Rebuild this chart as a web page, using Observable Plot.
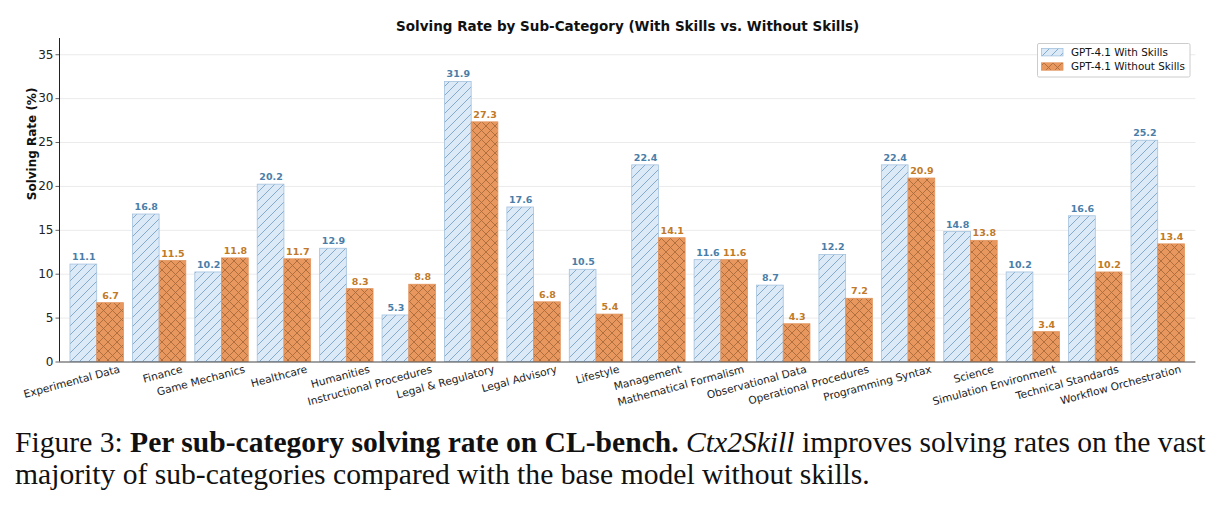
<!DOCTYPE html>
<html>
<head>
<meta charset="utf-8">
<script src="https://cdn.jsdelivr.net/npm/d3@7"></script>
<script src="https://cdn.jsdelivr.net/npm/@observablehq/plot@0.6"></script>
<style>
  html, body { margin: 0; padding: 0; background: #fff; width: 1219px; height: 508px; overflow: hidden; }
  #chart { position: absolute; left: 0; top: 0; }
  #caption { position: absolute; left: 15px; top: 426px; font-family: "Liberation Serif", "Times New Roman", serif; font-size: 29.6px; line-height: 32px; color: #111; white-space: nowrap; }
</style>
</head>
<body>
<div id="chart"></div>
<div id="caption">Figure 3: <b>Per sub-category solving rate on CL-bench.</b> <i>Ctx2Skill</i> improves solving rates on the vast<br>majority of sub-categories compared with the base model without skills.</div>
<script>
const categories = ["Experimental Data", "Finance", "Game Mechanics", "Healthcare", "Humanities",
  "Instructional Procedures", "Legal & Regulatory", "Legal Advisory", "Lifestyle", "Management",
  "Mathematical Formalism", "Observational Data", "Operational Procedures", "Programming Syntax",
  "Science", "Simulation Environment", "Technical Standards", "Workflow Orchestration"];
const withSkills = [11.1, 16.8, 10.2, 20.2, 12.9, 5.3, 31.9, 17.6, 10.5, 22.4, 11.6, 8.7, 12.2, 22.4, 14.8, 10.2, 16.6, 25.2];
const withoutSkills = [6.7, 11.5, 11.8, 11.7, 8.3, 8.8, 27.3, 6.8, 5.4, 14.1, 11.6, 4.3, 7.2, 20.9, 13.8, 3.4, 10.2, 13.4];
const seriesNames = ["GPT-4.1 With Skills", "GPT-4.1 Without Skills"];
const yTicks = [0, 5, 10, 15, 20, 25, 30, 35];

const W = 0.428; // bar width in category units
const rowsWith = categories.map((c, i) => ({i, cat: c, v: withSkills[i]}));
const rowsWithout = categories.map((c, i) => ({i, cat: c, v: withoutSkills[i]}));
const xDomain = [-0.604, categories.length - 1 + 0.604];

const blueLabel = "#4a7ea8", orangeLabel = "#c17a28";

const plot = Plot.plot({
  width: 1219,
  height: 420,
  marginLeft: 59,
  marginRight: 23.6,
  marginTop: 38,
  marginBottom: 58.5,
  style: {fontFamily: "DejaVu Sans", fontSize: "12px", color: "#222", background: "#fff"},
  x: {type: "linear", domain: xDomain, axis: null},
  y: {domain: [0, 36.85], axis: null},
  marks: [
    Plot.gridY(yTicks.filter(d => d > 0), {stroke: "#ebebeb", strokeOpacity: 1, strokeWidth: 1}),
    Plot.rectY(rowsWith, {x1: d => d.i - W, x2: d => d.i, y1: 0, y2: "v", fill: "url(#hatchBlue)", stroke: "#a3c2de", strokeWidth: 0.8}),
    Plot.rectY(rowsWithout, {x1: d => d.i, x2: d => d.i + W, y1: 0, y2: "v", fill: "url(#hatchOrange)", stroke: "#e3945c", strokeWidth: 0.8}),
    Plot.text(rowsWith, {x: d => d.i - W / 2, y: "v", text: d => d.v.toFixed(1), dy: -4.5, lineAnchor: "bottom", fill: blueLabel, fontWeight: "bold", fontSize: 9.5}),
    Plot.text(rowsWithout, {x: d => d.i + W / 2, y: "v", text: d => d.v.toFixed(1), dy: -4.5, lineAnchor: "bottom", fill: orangeLabel, fontWeight: "bold", fontSize: 9.5}),
    Plot.axisY({ticks: yTicks, tickSize: 3.5, tickPadding: 2.5, label: null, fontSize: 12, stroke: "#666", fill: "#222"}),
    Plot.ruleX([xDomain[0]], {stroke: "#222", strokeWidth: 1}),
    Plot.ruleY([0], {stroke: "#444", strokeWidth: 1.2}),
    Plot.axisX({ticks: d3.range(categories.length), tickFormat: i => categories[i], tickRotate: -15, textAnchor: "end", lineAnchor: "top", tickSize: 0, tickPadding: 3, dx: 21.5, label: null, fontSize: 10.6, fill: "#222"}),
    Plot.text(["Solving Rate (%)"], {frameAnchor: "left", rotate: -90, dx: -27, text: d => d, fontWeight: "bold", fontSize: 12, fill: "#111"}),
    Plot.text(["Solving Rate by Sub-Category (With Skills vs. Without Skills)"], {frameAnchor: "top", dy: -12, lineAnchor: "middle", text: d => d, fontWeight: "bold", fontSize: 13.5, fill: "#111"})
  ]
});

// hatch patterns
const svg = d3.select(plot);
const defs = svg.insert("defs", ":first-child");
const s = 9;
const pb = defs.append("pattern").attr("id", "hatchBlue").attr("patternUnits", "userSpaceOnUse").attr("width", s).attr("height", s);
pb.append("rect").attr("width", s).attr("height", s).attr("fill", "#dce9f7");
pb.append("path").attr("d", `M0,${s} L${s},0 M${-s/2},${s/2} L${s/2},${-s/2} M${s/2},${s*1.5} L${s*1.5},${s/2}`).attr("stroke", "#7aa4c9").attr("stroke-width", 0.9);
const po = defs.append("pattern").attr("id", "hatchOrange").attr("patternUnits", "userSpaceOnUse").attr("width", s).attr("height", s);
po.append("rect").attr("width", s).attr("height", s).attr("fill", "#e8985f");
po.append("path").attr("d", `M0,${s} L${s},0 M${-s/2},${s/2} L${s/2},${-s/2} M${s/2},${s*1.5} L${s*1.5},${s/2} M0,0 L${s},${s} M${-s/2},${s/2} L${s/2},${s*1.5} M${s/2},${-s/2} L${s*1.5},${s/2}`).attr("stroke", "#a96b3a").attr("stroke-width", 0.9);

// legend
const lg = svg.append("g").attr("font-family", "DejaVu Sans").attr("font-size", 10.4).attr("text-anchor", "start");
lg.append("rect").attr("x", 1037.5).attr("y", 43.5).attr("width", 152.5).attr("height", 33.5).attr("fill", "#fff").attr("stroke", "#cccccc").attr("stroke-width", 1).attr("rx", 1.5);
const fills = ["url(#hatchBlue)", "url(#hatchOrange)"];
const strokes = ["#a3c2de", "#e3945c"];
seriesNames.forEach((name, k) => {
  const y0 = 48.5 + k * 14.3;
  lg.append("rect").attr("x", 1041.5).attr("y", y0).attr("width", 21.5).attr("height", 7.4).attr("fill", fills[k]).attr("stroke", strokes[k]).attr("stroke-width", 0.8);
  lg.append("text").attr("x", 1071).attr("y", y0 + 7.6).attr("text-anchor", "start").attr("fill", "#111").text(name);
});

document.getElementById("chart").appendChild(plot);
</script>
</body>
</html>
